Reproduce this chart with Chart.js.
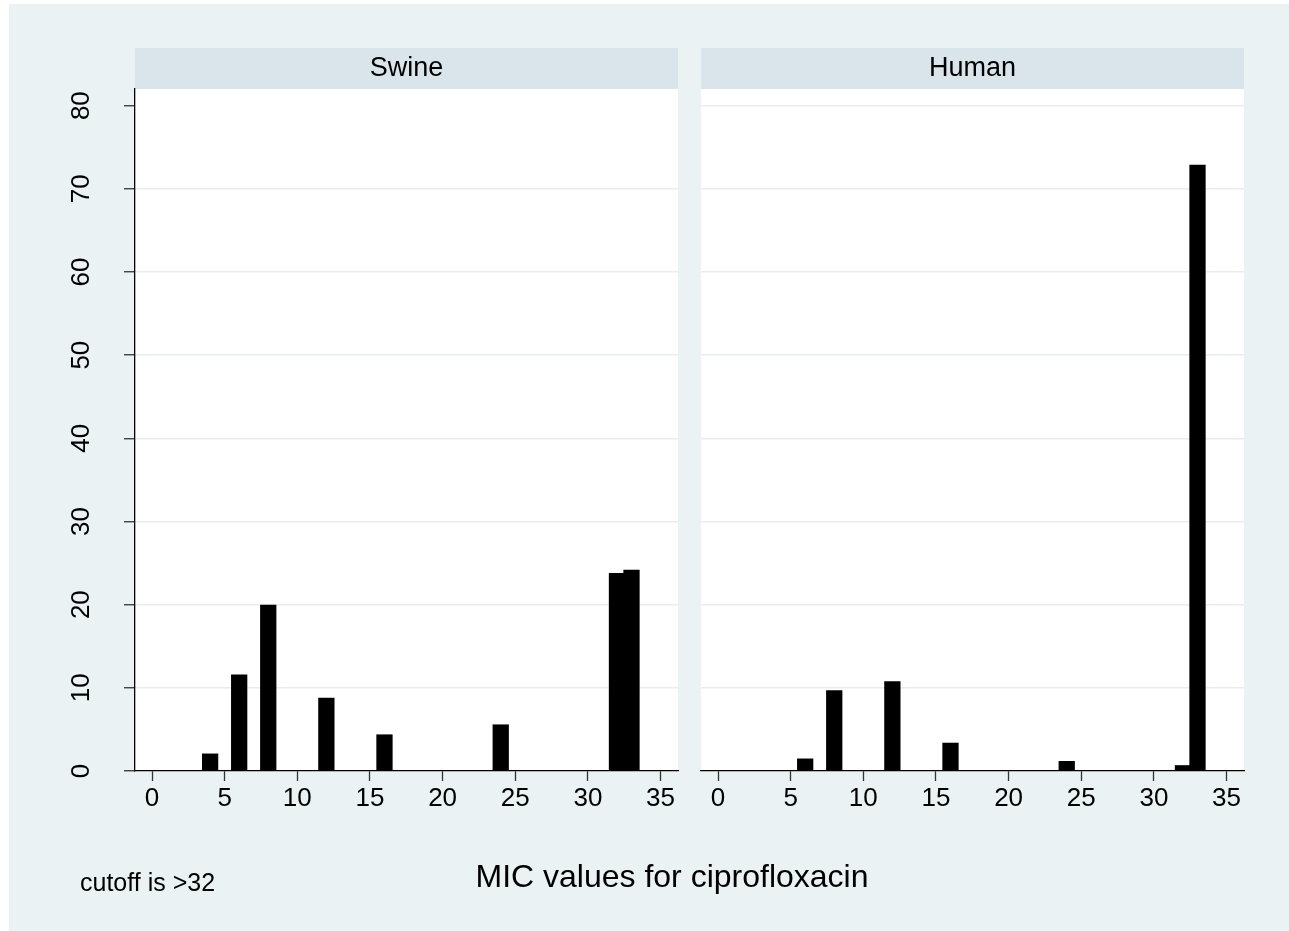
<!DOCTYPE html>
<html><head><meta charset="utf-8">
<script src="https://cdn.jsdelivr.net/npm/chart.js@4.4.1/dist/chart.umd.min.js"></script>
<style>
html,body{margin:0;padding:0;background:#fff;width:1289px;height:931px;overflow:hidden;position:relative;}
#bg{position:absolute;left:9px;top:4px;right:0;bottom:0;background:#eaf2f3;}
canvas{position:absolute;top:0;}
#c1{left:0}
#c2{left:690px}
.txt{position:absolute;font-family:"Liberation Sans",Arial,sans-serif;color:#000;white-space:nowrap;line-height:1;}
#xtitle{left:672px;top:876px;transform:translate(-50%,-50%);font-size:32px;}
#note{left:80px;top:882px;transform:translateY(-50%);font-size:25px;}
</style></head>
<body>
<div id="bg"></div>
<canvas id="c1" width="700" height="931"></canvas>
<canvas id="c2" width="599" height="931"></canvas>
<div class="txt" id="xtitle">MIC values for ciprofloxacin</div>
<div class="txt" id="note">cutoff is &gt;32</div>
<script>
// ---- data (percent of isolates at each MIC value) ----
const panelTitles = ["Swine", "Human"];
const swineMIC = [4, 6, 8, 12, 16, 24, 32, 33];
const swinePct = [2.1, 11.6, 20.0, 8.8, 4.4, 5.6, 23.8, 24.2];
const humanMIC = [6, 8, 12, 16, 24, 32, 33];
const humanPct = [1.5, 9.7, 10.8, 3.4, 1.2, 0.7, 72.9];
const xTicks = [0, 5, 10, 15, 20, 25, 30, 35];
const yTicks = [0, 10, 20, 30, 40, 50, 60, 70, 80];

const FONT = '"Liberation Sans", Arial, sans-serif';
Chart.defaults.font.family = FONT;
Chart.defaults.color = '#000';

const STRIP = '#d9e5eb';
const GRID = '#e6eef1';

const panelBg = {
  id: 'panelBg',
  beforeDraw(chart) {
    const {ctx, chartArea: a} = chart;
    ctx.save();
    ctx.fillStyle = STRIP;
    ctx.fillRect(a.left, 48, a.right - a.left, 41);
    ctx.fillStyle = '#ffffff';
    ctx.fillRect(a.left, a.top, a.right - a.left, a.bottom - a.top);
    ctx.restore();
  }
};

function makePanel(canvasId, title, mic, pct, showY) {
  const yScale = {
    type: 'linear',
    min: 0, max: 82,
    afterBuildTicks: s => { s.ticks = yTicks.map(v => ({value: v})); },
    afterFit: s => { s.width = showY ? 135 : 0; },
    border: {display: showY, color: '#000', width: 1.3},
    grid: {
      display: true,
      drawTicks: showY,
      tickLength: 11,
      tickColor: '#333',
      tickWidth: 1.3,
      lineWidth: 1.5,
      color: c => {
        const v = c.tick ? c.tick.value : null;
        if (v === 0) return 'rgba(0,0,0,0)';
        if (showY && v === 80) return 'rgba(0,0,0,0)';
        return GRID;
      }
    },
    ticks: {
      display: showY,
      minRotation: 90, maxRotation: 90,
      crossAlign: 'center',
      padding: 28,
      font: {size: 26},
      color: '#000'
    }
  };
  return new Chart(document.getElementById(canvasId), {
    type: 'bar',
    data: {
      datasets: [{
        data: mic.map((m, i) => ({x: m, y: pct[i]})),
        backgroundColor: '#000',
        borderColor: '#000',
        borderWidth: 0,
        barPercentage: 1.12,
        categoryPercentage: 1.0
      }]
    },
    options: {
      responsive: false,
      animation: false,
      devicePixelRatio: 1,
      layout: {padding: showY ? {left: 0, right: 22, top: 0, bottom: 0} : {left: 11, right: 45, top: 0, bottom: 0}},
      plugins: {
        legend: {display: false},
        tooltip: {enabled: false},
        title: {
          display: true,
          text: title,
          fullSize: false,
          color: '#000',
          font: {size: 27, weight: 'normal'},
          padding: {top: 52, bottom: 4.6}
        }
      },
      scales: {
        x: {
          type: 'linear',
          offset: false,
          min: -1.17, max: 36.2,
          afterBuildTicks: s => { s.ticks = xTicks.map(v => ({value: v})); },
          afterFit: s => { s.height = 160; },
          border: {display: true, color: '#000', width: 1.3},
          grid: {offset: false, drawOnChartArea: false, drawTicks: true, tickLength: 10, tickColor: '#333', tickWidth: 1.3},
          ticks: {font: {size: 26}, color: '#000', padding: 2, maxRotation: 0, minRotation: 0}
        },
        y: yScale
      }
    },
    plugins: [panelBg]
  });
}

makePanel('c1', panelTitles[0], swineMIC, swinePct, true);
makePanel('c2', panelTitles[1], humanMIC, humanPct, false);
</script>
</body></html>
